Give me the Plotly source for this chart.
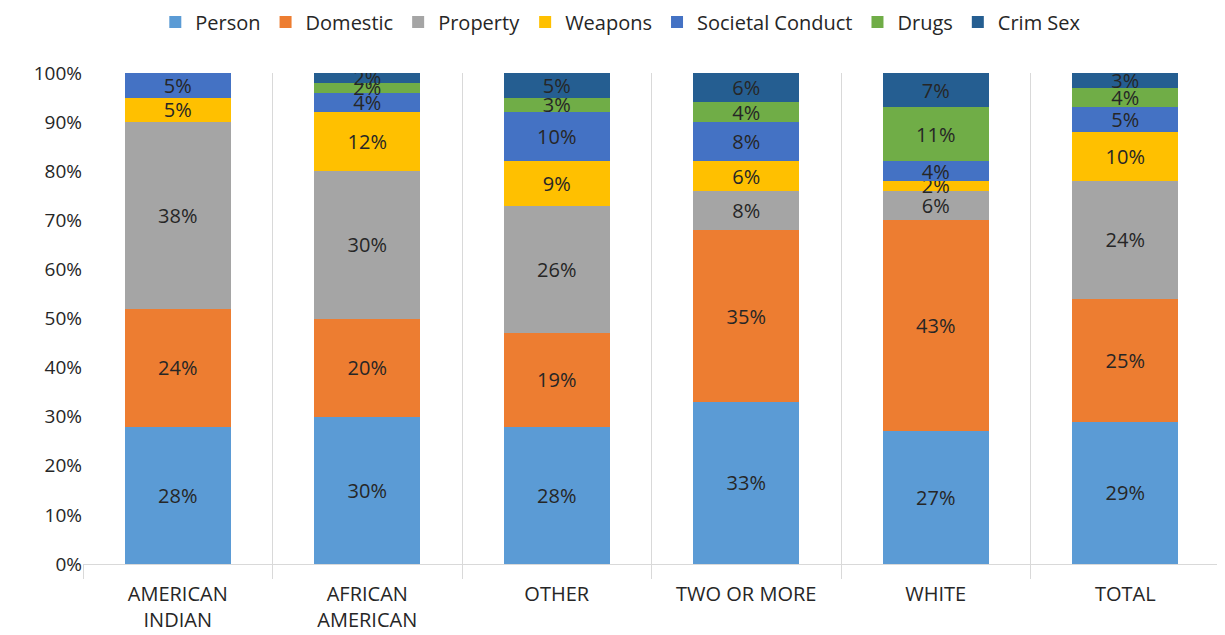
import plotly.graph_objects as go

categories = ["AMERICAN<br>INDIAN", "AFRICAN<br>AMERICAN", "OTHER", "TWO OR MORE", "WHITE", "TOTAL"]
series_names = ["Person", "Domestic", "Property", "Weapons", "Societal Conduct", "Drugs", "Crim Sex"]
person = [28, 30, 28, 33, 27, 29]
domestic = [24, 20, 19, 35, 43, 25]
property_ = [38, 30, 26, 8, 6, 24]
weapons = [5, 12, 9, 6, 2, 10]
societal = [5, 4, 10, 8, 4, 5]
drugs = [0, 2, 3, 4, 11, 4]
crim_sex = [0, 2, 5, 6, 7, 3]
y_ticks = [0, 10, 20, 30, 40, 50, 60, 70, 80, 90, 100]

colors = ["#5B9BD5", "#ED7D31", "#A5A5A5", "#FFC000", "#4472C4", "#70AD47", "#255E91"]
series = [person, domestic, property_, weapons, societal, drugs, crim_sex]

FONT = "Open Sans"
fig = go.Figure()
for name, vals, col in zip(series_names, series, colors):
    fig.add_trace(go.Bar(
        name=name, x=categories, y=[v / 100 for v in vals],
        marker=dict(color=col, line=dict(width=0)),
        text=[f"{v}%" if v > 0 else "" for v in vals],
        textposition="inside", insidetextanchor="middle", constraintext="none",
        textangle=0,
        textfont=dict(size=20, color="#262626", family=FONT),
        hoverinfo="skip",
    ))

fig.update_layout(
    barmode="stack", bargap=0.44,
    width=1225, height=635,
    margin=dict(l=75, r=13, t=65, b=79, autoexpand=False),
    plot_bgcolor="white", paper_bgcolor="white",
    font=dict(family=FONT, color="#262626"),
    uniformtext=dict(minsize=20, mode="show"),
    legend=dict(orientation="h", x=0.473, xanchor="center", y=1.104, yanchor="middle",
                font=dict(size=20, color="#262626", family=FONT),
                traceorder="normal", itemwidth=30, tracegroupgap=0),
    showlegend=True,
)
fig.update_yaxes(range=[0, 1], tickvals=[t / 100 for t in y_ticks],
                 ticktext=[f"{t}%" for t in y_ticks],
                 showgrid=False, zeroline=False, showline=False,
                 tickfont=dict(size=19, color="#262626", family=FONT), ticks="")
fig.update_xaxes(showline=True, linecolor="#D9D9D9", linewidth=1,
                 tickson="boundaries", showgrid=True, gridcolor="#D9D9D9", gridwidth=1,
                 ticks="outside", ticklen=14, tickcolor="#D9D9D9",
                 ticklabelstandoff=12,
                 tickfont=dict(size=20, color="#262626", family=FONT))
fig.write_html("out.html")
